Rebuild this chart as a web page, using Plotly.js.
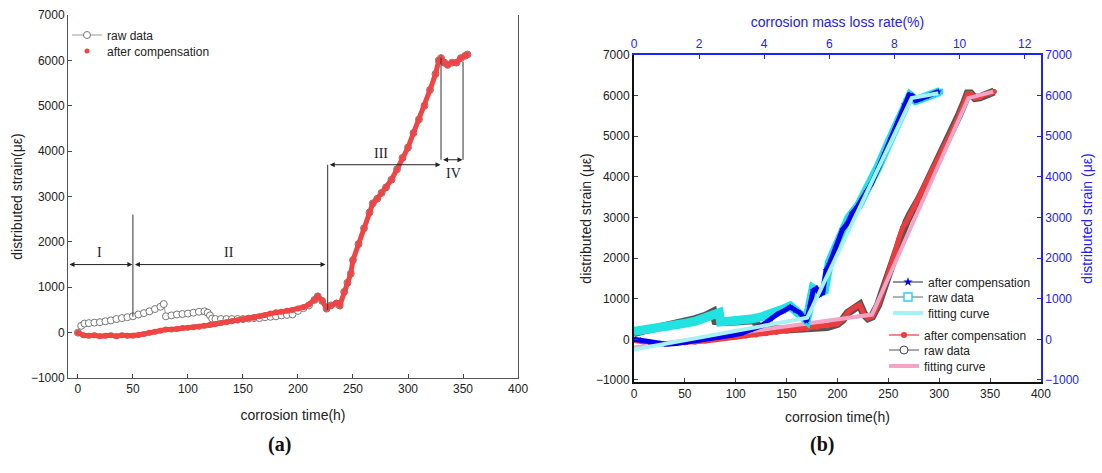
<!DOCTYPE html>
<html>
<head>
<meta charset="utf-8">
<script src="https://cdn.plot.ly/plotly-3.0.1.min.js"></script>
<style>html,body{margin:0;padding:0;background:#fff;}#chart{width:1102px;height:473px;}</style>
</head>
<body>
<div id="chart"></div>
<script>
// ---------- Panel (a): strain vs corrosion time ----------
const aRawTime = [0,3,6,10,15,20,25,30,35,40,45,50,55,60,65,70,75,78,80,85,90,95,100,105,110,115,118,120,122,125,130,135,140,145,150,155,160,165,170,175,180,185,190,195,200,205,210,215,218,222,226,230,235,238,242,245,248,250,255,260,265,268,272,276,280,285,290,295,300,305,310,315,320,325,328,330,333,336,340,344,348,352,354];
const aRawStrain = [0,150,200,210,220,230,250,270,300,320,340,360,400,430,470,520,570,630,360,380,400,410,420,440,460,470,440,380,310,300,300,300,300,300,300,310,320,320,340,350,360,380,390,400,480,540,600,720,800,700,530,600,640,600,900,1100,1300,1600,1950,2300,2650,2850,2950,3080,3200,3370,3600,3850,4080,4400,4700,5000,5350,5700,6000,6050,5950,5900,5950,5950,6050,6100,6130];
const aCompTime = [0,5,10,15,20,25,30,35,40,45,50,55,60,65,70,75,80,85,90,95,100,105,110,115,120,125,130,135,140,145,150,155,160,165,170,175,180,185,190,195,200,205,210,215,218,222,226,230,235,238,242,245,248,250,255,260,265,268,272,276,280,285,290,295,300,305,310,315,320,325,328,330,333,336,340,344,348,352,354];
const aCompStrain = [0,-60,-70,-60,-80,-70,-60,-80,-60,-70,-70,-50,-30,0,20,40,70,70,80,100,110,120,130,150,170,190,210,230,250,270,290,310,330,360,390,420,450,460,480,500,530,560,620,720,800,700,530,600,660,600,900,1100,1300,1600,1950,2300,2650,2850,2950,3080,3200,3370,3600,3850,4080,4400,4700,5000,5350,5700,6000,6050,5950,5900,5950,5950,6050,6100,6130];

// ---------- Panel (b): red group vs corrosion time ----------
const bCompTime = [0,10,20,30,40,50,60,70,80,90,100,110,120,130,140,150,160,170,180,190,200,205,210,215,218,222,226,230,234,237,240,244,248,252,256,260,264,268,272,276,280,285,290,295,300,305,310,315,320,325,328,331,335,340,345,350,354];
const bCompStrain = [-30,-80,-100,-110,-100,-90,-70,-40,-10,20,50,80,110,140,170,200,230,260,300,330,380,480,650,760,800,850,620,520,560,700,850,1150,1450,1800,2100,2450,2750,2900,3100,3250,3450,3700,3950,4220,4450,4700,5000,5260,5550,5850,6050,6050,5940,5960,6030,6060,6100];
const bRawTime = [0,5,10,20,30,40,50,60,70,78,80,85,90,100,110,118,122,130,140,150,160,170,180,190,200,205,210,215,218,222,226,230,234,237,240,244,248,252,256,260,264,268,272,276,280,285,290,295,300,305,310,315,320,325,328,331,335,340,345,350,354];
const bRawStrain = [150,200,220,270,320,380,430,500,580,680,450,420,430,440,460,470,320,280,250,240,250,260,280,300,380,480,650,760,800,850,620,520,560,700,850,1150,1450,1800,2100,2450,2750,2900,3100,3250,3450,3700,3950,4220,4450,4700,5000,5260,5550,5850,6050,6050,5940,5960,6030,6060,6100];
const bFitTime = [0,234,328.6,353];
const bFitStrain = [-200,610,5940,6100];

// ---------- Panel (b): blue group vs corrosion mass loss rate ----------
const cCompRate = [0,0.2,0.5,0.8,1.0,1.3,1.6,2.0,2.3,2.6,3.0,3.3,3.6,3.9,4.2,4.4,4.6,4.8,4.95,5.1,5.2,5.3,5.4,5.5,5.6,5.7,5.8,5.9,6.0,6.2,6.4,6.55,6.7,6.85,7.0,7.15,7.3,7.5,7.7,7.9,8.1,8.3,8.45,8.55,8.65,8.8,9.0,9.2,9.35];
const cCompStrain = [0,-20,-80,-100,-120,-100,-70,-20,20,50,100,150,230,330,500,620,700,800,720,650,550,450,800,1200,1250,1100,1150,1700,1850,2250,2700,2850,3100,3250,3450,3650,3850,4200,4580,4950,5350,5780,6020,6000,5880,5920,5980,6040,6100];
const cRawRate = [0,0.3,0.6,1.0,1.3,1.6,1.9,2.2,2.45,2.62,2.66,2.9,3.2,3.4,3.6,3.9,4.2,4.5,4.8,5.0,5.2,5.3,5.4,5.5,5.7,5.85,6.0,6.3,6.6,6.9,7.2,7.5,7.8,8.1,8.35,8.48,8.65,8.9,9.1,9.4];
const cRawStrain = [200,230,260,290,330,400,450,520,580,660,430,440,450,460,500,550,620,720,820,700,560,470,850,1250,1150,1200,1900,2500,3000,3300,3750,4250,4800,5380,5850,6000,5880,5950,6030,6100];
const cFitRate = [0,5.32,8.53,9.35];
const cFitStrain = [-250,530,5940,6060];

const timeTicks = [0,50,100,150,200,250,300,350,400];
const rateTicks = [0,2,4,6,8,10,12];
const strainTicks = [-1000,0,1000,2000,3000,4000,5000,6000,7000];

const FONT = 'Liberation Sans, Arial, sans-serif';
const SERIF = 'Liberation Serif, Times New Roman, serif';
const BLUE = '#2222f2';
const RED = '#f04545';

const traces = [
  // panel a
  {x: aRawTime, y: aRawStrain, xaxis:'x', yaxis:'y', mode:'lines+markers', name:'raw data', legend:'legend',
   line:{color:'#9a9a9a', width:1}, marker:{symbol:'circle', size:7, color:'white', line:{color:'#777', width:1}}},
  {x: aCompTime, y: aCompStrain, xaxis:'x', yaxis:'y', mode:'lines+markers', showlegend:false,
   line:{color:RED, width:5}, marker:{size:6, color:RED}},
  {x:[null], y:[null], xaxis:'x', yaxis:'y', mode:'markers', name:'after compensation', legend:'legend2',
   marker:{size:5, color:RED}},

  // panel b, red group (time axis)
  {x: bRawTime, y: bRawStrain, xaxis:'x2', yaxis:'y2', mode:'lines+markers', showlegend:false,
   line:{color:'#555', width:8}, marker:{symbol:'circle', size:5, color:'#555'}},
  {x: bCompTime, y: bCompStrain, xaxis:'x2', yaxis:'y2', mode:'lines+markers', showlegend:false,
   line:{color:'#ee3b3b', width:5}, marker:{size:5, color:'#ee3b3b'}},

  // panel b, blue group (rate axis)
  {x: cRawRate, y: cRawStrain, xaxis:'x3', yaxis:'y3', mode:'lines+markers', showlegend:false,
   line:{color:'#22e2e2', width:9}, marker:{symbol:'square', size:6, color:'#22e2e2'}},
  {x: cCompRate, y: cCompStrain, xaxis:'x3', yaxis:'y3', mode:'lines+markers', showlegend:false,
   line:{color:'#0000ee', width:5}, marker:{symbol:'star', size:5, color:'#0000ee'}},

  // fitting curves
  {x: bFitTime, y: bFitStrain, xaxis:'x2', yaxis:'y2', mode:'lines', name:'fitting curve', legend:'legend8',
   line:{color:'#f7a3c6', width:4}},
  {x: cFitRate, y: cFitStrain, xaxis:'x3', yaxis:'y3', mode:'lines', name:'fitting curve', legend:'legend5',
   line:{color:'#a6f2f5', width:4}},

  // legend entries for panel b
  {x:[null], y:[null], xaxis:'x3', yaxis:'y3', mode:'lines+markers', name:'after compensation', legend:'legend3',
   line:{color:'#222255', width:1}, marker:{symbol:'star', size:7, color:'#0000ee'}},
  {x:[null], y:[null], xaxis:'x3', yaxis:'y3', mode:'lines+markers', name:'raw data', legend:'legend4',
   line:{color:'#666', width:1}, marker:{symbol:'square', size:8, color:'white', line:{color:'#22d8e8', width:1.5}}},
  {x:[null], y:[null], xaxis:'x2', yaxis:'y2', mode:'lines+markers', name:'after compensation', legend:'legend6',
   line:{color:'#f06060', width:1.5}, marker:{size:6, color:'#ee3b3b'}},
  {x:[null], y:[null], xaxis:'x2', yaxis:'y2', mode:'lines+markers', name:'raw data', legend:'legend7',
   line:{color:'#555', width:1}, marker:{symbol:'circle', size:8, color:'white', line:{color:'#444', width:1}}}
];

function ax(extra){
  return Object.assign({showgrid:false, zeroline:false, ticks:'inside', ticklen:4, tickwidth:1,
    tickfont:{family:FONT, size:12, color:'#222'}, showline:true}, extra);
}

const arrow = (x0, x1, y) => ({x:x1, y:y, ax:x0, ay:y, xref:'x', yref:'y', axref:'x', ayref:'y', text:'',
  showarrow:true, arrowside:'end+start', arrowhead:2, arrowsize:1, arrowwidth:1, arrowcolor:'#222', standoff:0, startstandoff:0});
const roman = (t, x, y) => ({x:x, y:y, xref:'x', yref:'y', text:t, showarrow:false,
  font:{family:SERIF, size:14, color:'#222'}});
const vline = (x, y0, y1) => ({type:'line', xref:'x', yref:'y', x0:x, x1:x, y0:y0, y1:y1, line:{color:'#333', width:1}});
// one legend per row, placed at pixel position (text starts at px + 40)
const leg = (px, py) => ({x:px/1102, y:1 - py/473, xanchor:'left', yanchor:'middle', bgcolor:'rgba(0,0,0,0)',
  borderwidth:0, font:{family:FONT, size:12, color:'#222'}});

const layout = {
  width:1102, height:473, margin:{l:0, r:0, t:0, b:0},
  paper_bgcolor:'white', plot_bgcolor:'rgba(0,0,0,0)',
  font:{family:FONT, size:12, color:'#222'},
  xaxis: ax({domain:[0.0617,0.4701], range:[-9,400], anchor:'y', tickvals:timeTicks, linecolor:'#555', linewidth:1,
    title:{text:'corrosion time(h)', font:{family:FONT, size:14, color:'#222'}, standoff:14}}),
  yaxis: ax({domain:[0.2008,0.9683], range:[-1000,7000], anchor:'x', tickvals:strainTicks, mirror:true, linecolor:'#555', linewidth:1,
    title:{text:'distributed strain(με)', font:{family:FONT, size:14, color:'#222'}, standoff:4}}),
  xaxis2: ax({domain:[0.5753,0.9446], range:[0,400], anchor:'y2', tickvals:timeTicks, linecolor:'#111', linewidth:2,
    title:{text:'corrosion time(h)', font:{family:FONT, size:14, color:'#222'}, standoff:12}}),
  yaxis2: ax({domain:[0.1924,0.8837], range:[-1050,7000], anchor:'x2', tickvals:strainTicks, linecolor:'#111', linewidth:2,
    title:{text:'distributed strain (με)', font:{family:FONT, size:14, color:'#222'}, standoff:1}}),
  xaxis3: ax({overlaying:'x2', side:'top', anchor:'y3', range:[0,12.5], tickvals:rateTicks, linecolor:BLUE, linewidth:2, tickcolor:BLUE,
    tickfont:{family:FONT, size:12, color:BLUE},
    title:{text:'corrosion mass loss rate(%)', font:{family:FONT, size:14, color:BLUE}, standoff:6}}),
  yaxis3: ax({overlaying:'y2', side:'right', anchor:'x3', range:[-1050,7000], tickvals:strainTicks, linecolor:BLUE, linewidth:2, tickcolor:BLUE,
    tickfont:{family:FONT, size:12, color:BLUE},
    title:{text:'distributed strain (με)', font:{family:FONT, size:14, color:BLUE}, standoff:4}}),
  legend: leg(67, 35),
  legend2: leg(67, 51),
  legend3: leg(888, 282),
  legend4: leg(888, 297),
  legend5: leg(888, 313),
  legend6: leg(884, 335),
  legend7: leg(884, 350),
  legend8: leg(884, 366),
  shapes: [vline(50, 350, 2600), vline(227, 500, 3700), vline(330, 3810, 6060), vline(350, 3810, 5970)],
  annotations: [
    arrow(-9, 49.5, 1500), arrow(50.5, 225, 1500), arrow(227.5, 329.5, 3700), arrow(330.5, 349.5, 3810),
    roman('I', 20, 1760), roman('II', 137, 1760), roman('III', 275, 3950), roman('IV', 341, 3500),
    {x:0.2414, y:0.0317, xref:'paper', yref:'paper', text:'<b>(a)</b>', showarrow:false, font:{family:SERIF, size:20, color:'#111'}},
    {x:0.7586, y:0.0317, xref:'paper', yref:'paper', text:'<b>(b)</b>', showarrow:false, font:{family:SERIF, size:20, color:'#111'}}
  ]
};

Plotly.newPlot('chart', traces, layout, {displayModeBar:false, responsive:false});
</script>
</body>
</html>
